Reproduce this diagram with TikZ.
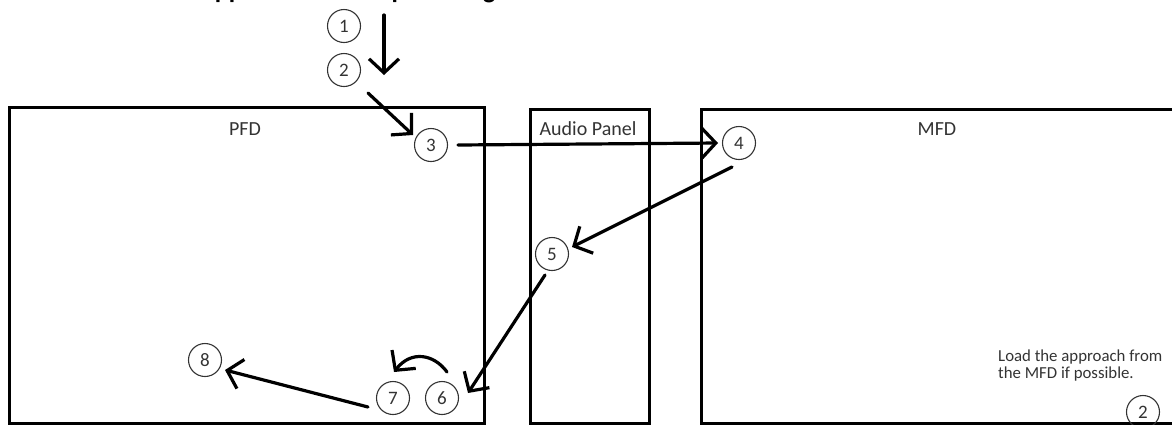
\documentclass[tikz,border=0pt]{standalone}
\usepackage{fontspec}
\setmainfont{Carlito}
\usetikzlibrary{arrows.meta,calc}
\definecolor{ink}{HTML}{333333}
\begin{document}
\begin{tikzpicture}[x=1pt,y=-1pt,
  box/.style={draw=black,line width=3.3pt,inner sep=0pt,anchor=north west},
  num/.style={circle,draw=ink,line width=1.1pt,minimum size=33pt,inner sep=0pt,
    font=\fontsize{19}{19}\selectfont,text=ink},
  arr/.style={line width=3.2pt,line cap=round,-{Straight Barb[length=14pt,width=30pt,line width=3.2pt]}},
  lbl/.style={font=\fontsize{20}{22}\selectfont,text=ink}]
\useasboundingbox (0,0) rectangle (1172,424);
% title, cut by the top edge
\node[anchor=base west,inner sep=0pt,font=\bfseries\fontsize{26}{26}\selectfont] (title) at (199,-2) {Approach and Map Loading};
% panels
\node[box,minimum width=475pt,minimum height=316pt] (pfd) at (8,106) {};
\node[box,minimum width=119pt,minimum height=314pt] (audio) at (529,108) {};
\node[box,minimum width=490pt,minimum height=314pt] (mfd) at (700,108) {};
\node[lbl] (pfdl) at (245,129) {PFD};
\node[lbl] (audiol) at (588,129) {Audio Panel};
\node[lbl] (mfdl) at (937,129) {MFD};
% numbered steps
\node[num] (c1) at (344,26) {1};
\node[num] (c2) at (344,70) {2};
\node[num] (c3) at (431,145) {3};
\node[num] (c4) at (739,143) {4};
\node[num] (c5) at (552,254) {5};
\node[num] (c6) at (442,398) {6};
\node[num] (c7) at (393,398) {7};
\node[num] (c8) at (205,360) {8};
\node[num] (m2) at (1143,412) {2};
\node[anchor=north west,align=left,inner sep=0pt,font=\fontsize{16.8}{17}\selectfont,text=ink] (note) at (998,350)
  {Load the approach from\\the MFD if possible.};
% connectors
\coordinate (a1) at (384,15);
\coordinate (a2) at (384,75);
\coordinate (b1) at (368,93);
\draw[arr] (a1) -- (a2);
\draw[arr] (b1) -- ($(c3)+(-18,-10)$);
\draw[arr] ($(c3)+(27,0)$) -- ($(c4)+(-21,0)$);
\draw[arr] ($(c4)+(-7,24)$) -- ($(c5)+(20,-7)$);
\draw[arr] ($(c5)+(-7,21)$) -- ($(c6)+(26,-5)$);
\draw[arr] ($(c6)+(5,-26)$) .. controls ($(c6)+(-8,-44)$) and ($(c7)+(18,-48)$) .. ($(c7)+(1,-26)$);
\draw[arr] ($(c7)+(-25,9)$) -- ($(c8)+(20,10)$);
\end{tikzpicture}
\end{document}
